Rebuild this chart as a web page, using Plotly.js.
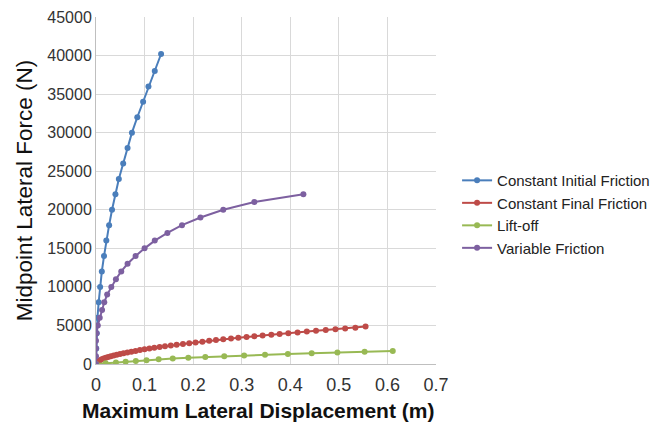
<!DOCTYPE html>
<html>
<head>
<meta charset="utf-8">
<script src="https://cdn.plot.ly/plotly-3.0.1.min.js"></script>
<style>html,body{margin:0;padding:0;background:#fff;}#chart{width:667px;height:423px;}</style>
</head>
<body>
<div id="chart"></div>
<script>
// Constant Initial Friction
const initialX = [0, 0.0005, 0.0015, 0.003, 0.0055, 0.0085, 0.012, 0.0165, 0.0212, 0.027, 0.033, 0.040, 0.047, 0.056, 0.065, 0.074, 0.085, 0.097, 0.108, 0.121, 0.134];
const initialY = [0, 2000, 4000, 6000, 8000, 10000, 12000, 14000, 16000, 18000, 20000, 22000, 24000, 26000, 28000, 30000, 32000, 34000, 36000, 38000, 40200];

// Constant Final Friction
const finalX = [0, 0.0004, 0.0016, 0.0033, 0.0056, 0.0085, 0.0119, 0.0158, 0.0202, 0.0251, 0.0305, 0.0364, 0.0427, 0.0496, 0.0568, 0.0646, 0.0728, 0.0814, 0.0905, 0.100, 0.110, 0.120, 0.131, 0.142, 0.154, 0.166, 0.179, 0.192, 0.205, 0.219, 0.233, 0.247, 0.262, 0.278, 0.293, 0.310, 0.326, 0.343, 0.361, 0.378, 0.396, 0.415, 0.434, 0.453, 0.473, 0.493, 0.513, 0.534, 0.555];
const finalY = [0, 100, 200, 300, 400, 500, 600, 700, 800, 900, 1000, 1100, 1200, 1300, 1400, 1500, 1600, 1700, 1800, 1900, 2000, 2100, 2200, 2300, 2400, 2500, 2600, 2700, 2800, 2900, 3000, 3100, 3200, 3300, 3400, 3500, 3600, 3700, 3800, 3900, 4000, 4100, 4200, 4300, 4400, 4500, 4600, 4700, 4850];

// Lift-off
const liftX = [0, 0.020, 0.041, 0.061, 0.082, 0.104, 0.129, 0.158, 0.190, 0.225, 0.264, 0.305, 0.348, 0.395, 0.444, 0.497, 0.553, 0.611];
const liftY = [0, 100, 200, 300, 400, 500, 600, 700, 800, 900, 1000, 1100, 1200, 1300, 1400, 1500, 1600, 1700];

// Variable Friction
const variableX = [0, 0, 0, 0, 0.001, 0.0037, 0.0077, 0.0125, 0.017, 0.023, 0.0315, 0.041, 0.052, 0.065, 0.0815, 0.100, 0.121, 0.147, 0.177, 0.215, 0.262, 0.326, 0.427];
const variableY = [0, 1000, 2000, 3000, 4000, 5000, 6000, 7000, 8000, 9000, 10000, 11000, 12000, 13000, 14000, 15000, 16000, 17000, 18000, 19000, 20000, 21000, 22000];

const seriesNames = ["Constant Initial Friction", "Constant Final Friction", "Lift-off", "Variable Friction"];
const seriesColors = ["#4a7ebb", "#be4b48", "#98b954", "#7d60a0"];

const xTickVals = [0, 0.1, 0.2, 0.3, 0.4, 0.5, 0.6, 0.7];
const xTickText = ["0", "0.1", "0.2", "0.3", "0.4", "0.5", "0.6", "0.7"];
const yTickVals = [0, 5000, 10000, 15000, 20000, 25000, 30000, 35000, 40000, 45000];
const yTickText = ["0", "5000", "10000", "15000", "20000", "25000", "30000", "35000", "40000", "45000"];

const xs = [initialX, finalX, liftX, variableX];
const ys = [initialY, finalY, liftY, variableY];

const traces = seriesNames.map((n, i) => ({
  type: "scatter",
  mode: "lines+markers",
  name: n,
  x: xs[i],
  y: ys[i],
  line: {color: seriesColors[i], width: 2},
  marker: {color: seriesColors[i], size: 6}
}));

const layout = {
  width: 667,
  height: 423,
  margin: {l: 96, r: 225, t: 17, b: 59},
  paper_bgcolor: "#ffffff",
  plot_bgcolor: "#ffffff",
  font: {family: "Liberation Sans, Arial, sans-serif", color: "#333333"},
  showlegend: true,
  legend: {
    x: 1.062, xanchor: "left", y: 0.432, yanchor: "middle",
    font: {size: 15, color: "#222222"},
    tracegroupgap: 0, itemwidth: 30
  },
  xaxis: {
    range: [0, 0.7],
    tickvals: xTickVals,
    ticktext: xTickText,
    tickfont: {size: 18, color: "#333333"},
    ticklabelstandoff: 4,
    showgrid: true, gridcolor: "#d9d9d9", gridwidth: 1,
    zeroline: false,
    showline: true, linecolor: "#bfbfbf", linewidth: 1,
    ticks: "", ticklen: 0
  },
  yaxis: {
    range: [0, 45000],
    tickvals: yTickVals,
    ticktext: yTickText,
    tickfont: {size: 16, color: "#333333"},
    showgrid: true, gridcolor: "#d9d9d9", gridwidth: 1,
    zeroline: false,
    showline: true, linecolor: "#bfbfbf", linewidth: 1,
    ticks: "", ticklen: 0,
    title: {text: "Midpoint Lateral Force (N)", font: {size: 22.5, color: "#111111"}, standoff: 8}
  },
  annotations: [{
    text: "<b>Maximum Lateral Displacement (m)</b>",
    xref: "paper", yref: "paper",
    x: 0.475, y: -0.133, xanchor: "center", yanchor: "middle",
    showarrow: false,
    font: {size: 21, color: "#111111"}
  }]
};

Plotly.newPlot("chart", traces, layout, {displayModeBar: false, staticPlot: true});
</script>
</body>
</html>
